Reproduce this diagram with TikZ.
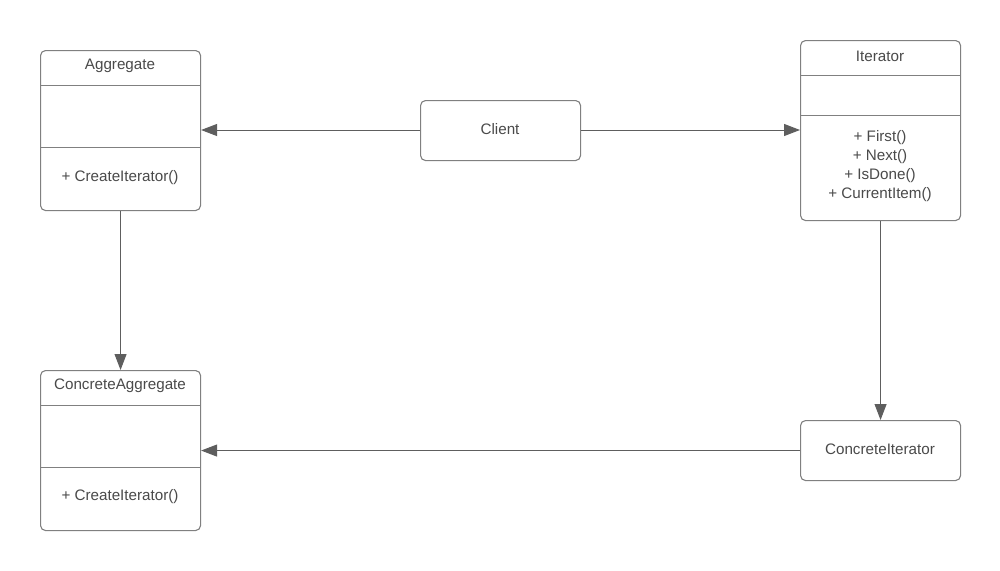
\documentclass[tikz,border=0pt]{standalone}
\usepackage{fontspec}
\setmainfont{Liberation Sans}
\usetikzlibrary{arrows.meta}
\definecolor{boxline}{HTML}{808080}
\definecolor{wire}{HTML}{5E5E5E}
\definecolor{ink}{HTML}{4A4A4A}
\begin{document}
\begin{tikzpicture}[x=1pt,y=-1pt,
  umlbox/.style={draw=boxline,line width=1.1pt,rounded corners=5pt,fill=white,
    minimum width=160pt,inner sep=0pt,anchor=north west},
  divider/.style={draw=boxline,line width=1pt},
  label/.style={text=ink,font=\fontsize{15.2}{19}\selectfont,inner sep=0pt},
  assoc/.style={draw=wire,line width=1pt,-{Triangle[length=16pt,width=12pt]}}]
\useasboundingbox (0,0) rectangle (1000,570);

% class boxes
\node[umlbox,minimum height=160pt] (agg) at (40,50) {};
\node[umlbox,minimum height=180pt] (itr) at (800,40) {};
\node[umlbox,minimum height=60pt]  (cli) at (420,100) {};
\node[umlbox,minimum height=60pt]  (citr) at (800,420) {};
\node[umlbox,minimum height=160pt] (cagg) at (40,370) {};

% compartment separators
\draw[divider] (40,85) -- (200,85);
\draw[divider] (40,147) -- (200,147);
\draw[divider] (800,75) -- (960,75);
\draw[divider] (800,115) -- (960,115);
\draw[divider] (40,405) -- (200,405);
\draw[divider] (40,467) -- (200,467);

% texts
\node[label] (aggT) at (120,66) {Aggregate};
\node[label] (aggM) at (120,178) {+ CreateIterator()};
\node[label] (itrT) at (880,56) {Iterator};
\node[label,align=center] (itrM) at (880,166.5) {+ First()\\+ Next()\\+ IsDone()\\+ CurrentItem()};
\node[label] (cliT) at (500,129) {Client};
\node[label] (citrT) at (880,449) {ConcreteIterator};
\node[label] (caggT) at (120,386) {ConcreteAggregate};
\node[label] (caggM) at (120,497) {+ CreateIterator()};

% associations
\draw[assoc] (cli.west |- 0,130) -- (agg.east |- 0,130);
\draw[assoc] (cli.east |- 0,130) -- (itr.west |- 0,130);
\draw[assoc] (agg.south) -- (cagg.north);
\draw[assoc] (itr.south) -- (citr.north);
\draw[assoc] (citr.west) -- (cagg.east |- citr.west);
\end{tikzpicture}
\end{document}
